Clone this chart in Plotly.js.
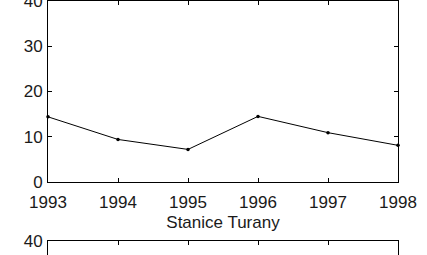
<!DOCTYPE html>
<html>
<head>
<meta charset="utf-8">
<script src="https://cdn.plot.ly/plotly-3.0.1.min.js"></script>
<style>
html,body{margin:0;padding:0;overflow:hidden;background:#fff;width:427px;height:255px;}
#chart{width:427px;height:470px;margin-top:-10px;}
</style>
</head>
<body>
<div id="chart"></div>
<script>
const years = [1993, 1994, 1995, 1996, 1997, 1998];
const valuesTop = [14.4, 9.4, 7.2, 14.5, 10.9, 8.1];
const yTicks = [0, 10, 20, 30, 40];
const xTitleTop = "Stanice Turany";

const fnt = {family: "Liberation Sans, Arial, Helvetica, sans-serif", size: 17, color: "#1a1a1a"};

const axisCommon = {
  showline: true, linecolor: "#000", linewidth: 1, mirror: "ticks",
  ticks: "inside", ticklen: 4, tickwidth: 1, tickcolor: "#000",
  showgrid: false, zeroline: false, tickfont: fnt, fixedrange: true
};

const traces = [
  {x: years, y: valuesTop, type: "scatter", mode: "lines+markers",
   line: {color: "#000", width: 1}, marker: {color: "#000", size: 3.5},
   xaxis: "x", yaxis: "y", showlegend: false, cliponaxis: false},
  {x: [], y: [], type: "scatter", mode: "lines", xaxis: "x2", yaxis: "y2", showlegend: false}
];

const layout = {
  width: 427, height: 470,
  margin: {l: 48, r: 29, t: 11, b: 38},
  paper_bgcolor: "#fff", plot_bgcolor: "#fff",
  font: fnt,
  xaxis: Object.assign({}, axisCommon, {
    range: [1993, 1998], tickvals: years, ticktext: years.map(String),
    anchor: "y", domain: [0, 1], ticklabelstandoff: 5,
    title: {text: xTitleTop, font: fnt, standoff: 4}
  }),
  yaxis: Object.assign({}, axisCommon, {
    range: [0, 40], tickvals: yTicks, ticktext: yTicks.map(String),
    anchor: "x", domain: [0.5701, 1], ticklabelstandoff: 1
  }),
  xaxis2: Object.assign({}, axisCommon, {
    range: [1993, 1998], tickvals: years, showticklabels: false,
    anchor: "y2", domain: [0, 1]
  }),
  yaxis2: Object.assign({}, axisCommon, {
    range: [0, 40], tickvals: yTicks, ticktext: yTicks.map(String),
    anchor: "x2", domain: [0, 0.4307], ticklabelstandoff: 1
  })
};

Plotly.newPlot("chart", traces, layout, {staticPlot: true, displayModeBar: false});
</script>
</body>
</html>
